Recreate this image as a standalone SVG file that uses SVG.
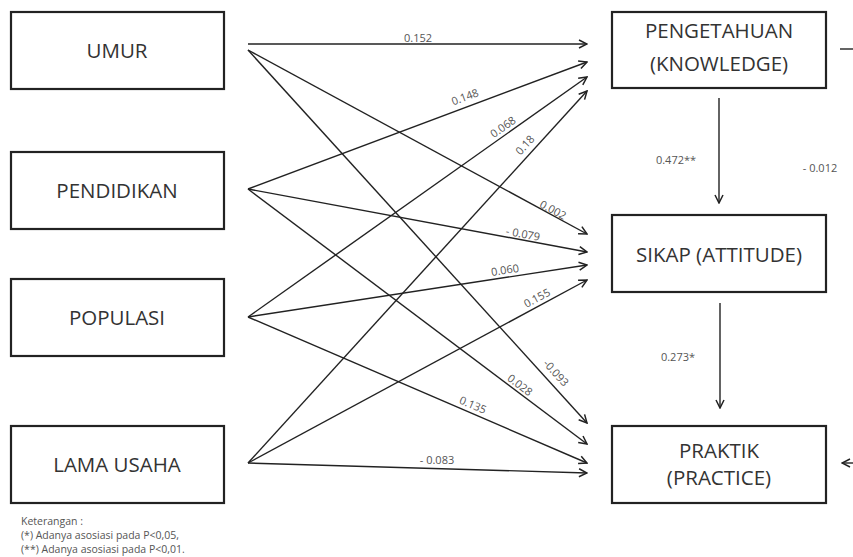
<svg xmlns="http://www.w3.org/2000/svg" width="853" height="557" viewBox="0 0 853 557">
<style>
.box{fill:#fff;stroke:#222;stroke-width:2.2}
.nt{font-family:"Open Sans","Liberation Sans",sans-serif;font-size:20.5px;font-weight:500;fill:#333;text-anchor:middle}
.lb{font-family:"Open Sans","Liberation Sans",sans-serif;font-size:11px;fill:#555;text-anchor:middle}
.lg{font-family:"Open Sans","Liberation Sans",sans-serif;font-size:10.5px;fill:#555}
.ed{stroke:#222;stroke-width:1.4;fill:none;marker-end:url(#ah)}
.ln{stroke:#222;stroke-width:1.4;fill:none}
</style>
<defs>
<marker id="ah" viewBox="0 0 10 10" refX="9" refY="5" markerWidth="10" markerHeight="10" markerUnits="userSpaceOnUse" orient="auto">
<path d="M1,1 L9,5 L1,9" fill="none" stroke="#222" stroke-width="1.5"/>
</marker>
</defs>
<rect width="853" height="557" fill="#fff"/>
<g id="umur"><rect class="box" x="11" y="12" width="213" height="77"/><text class="nt" x="117" y="58">UMUR</text></g>
<g id="pendidikan"><rect class="box" x="11" y="152" width="213" height="77"/><text class="nt" x="117" y="198">PENDIDIKAN</text></g>
<g id="populasi"><rect class="box" x="11" y="279" width="213" height="77"/><text class="nt" x="117" y="325">POPULASI</text></g>
<g id="lama-usaha"><rect class="box" x="11" y="426" width="213" height="77"/><text class="nt" x="117" y="472">LAMA USAHA</text></g>
<g id="pengetahuan"><rect class="box" x="612" y="12" width="214" height="76"/><text class="nt" x="719" y="38">PENGETAHUAN</text><text class="nt" x="719" y="71">(KNOWLEDGE)</text></g>
<g id="sikap"><rect class="box" x="612" y="215" width="214" height="77"/><text class="nt" x="719" y="262">SIKAP (ATTITUDE)</text></g>
<g id="praktik"><rect class="box" x="612" y="426" width="214" height="77"/><text class="nt" x="719" y="458">PRAKTIK</text><text class="nt" x="719" y="485">(PRACTICE)</text></g>
<g id="connectors">
<line class="ed" x1="248" y1="44" x2="587" y2="44"/>
<line class="ed" x1="248" y1="50" x2="587" y2="234"/>
<line class="ed" x1="248" y1="50" x2="587" y2="423"/>
<line class="ed" x1="248" y1="189" x2="587" y2="62"/>
<line class="ed" x1="248" y1="189" x2="587" y2="252"/>
<line class="ed" x1="248" y1="189" x2="587" y2="444"/>
<line class="ed" x1="248" y1="317" x2="587" y2="77"/>
<line class="ed" x1="248" y1="317" x2="587" y2="265"/>
<line class="ed" x1="248" y1="317" x2="587" y2="463"/>
<line class="ed" x1="248" y1="463" x2="587" y2="91"/>
<line class="ed" x1="248" y1="463" x2="587" y2="280"/>
<line class="ed" x1="248" y1="463" x2="587" y2="473"/>
<line class="ed" x1="719" y1="98" x2="719" y2="203"/>
<line class="ed" x1="720" y1="303" x2="720" y2="408"/>
<line class="ln" x1="840" y1="49" x2="853" y2="49"/>
<line class="ed" x1="853" y1="463" x2="842" y2="463"/>
<text class="lb" x="418" y="42">0.152</text>
<text class="lb" transform="translate(553,210) rotate(28.5)" dy="0.35em">0.002</text>
<text class="lb" transform="translate(556,373) rotate(47.7)" dy="0.35em">-0.093</text>
<text class="lb" transform="translate(465,97) rotate(-20.5)" dy="0.35em">0.148</text>
<text class="lb" transform="translate(523,234) rotate(10.5)" dy="0.35em">- 0.079</text>
<text class="lb" transform="translate(520,385) rotate(37)" dy="0.35em">0.028</text>
<text class="lb" transform="translate(503,127) rotate(-35.3)" dy="0.35em">0.068</text>
<text class="lb" transform="translate(505,270) rotate(-8.7)" dy="0.35em">0.060</text>
<text class="lb" transform="translate(473,405) rotate(23.3)" dy="0.35em">0.135</text>
<text class="lb" transform="translate(525,145) rotate(-47.7)" dy="0.35em">0.18</text>
<text class="lb" transform="translate(537,298) rotate(-28.4)" dy="0.35em">0.155</text>
<text class="lb" x="437" y="464">- 0.083</text>
<text class="lb" x="676" y="164">0.472**</text>
<text class="lb" x="820" y="172">- 0.012</text>
<text class="lb" x="678" y="361">0.273*</text>
</g>
<g id="legend">
<text class="lg" x="21" y="525">Keterangan :</text>
<text class="lg" x="21" y="539">(*) Adanya asosiasi pada P&lt;0,05,</text>
<text class="lg" x="21" y="553">(**) Adanya asosiasi pada P&lt;0,01.</text>
</g>
</svg>
